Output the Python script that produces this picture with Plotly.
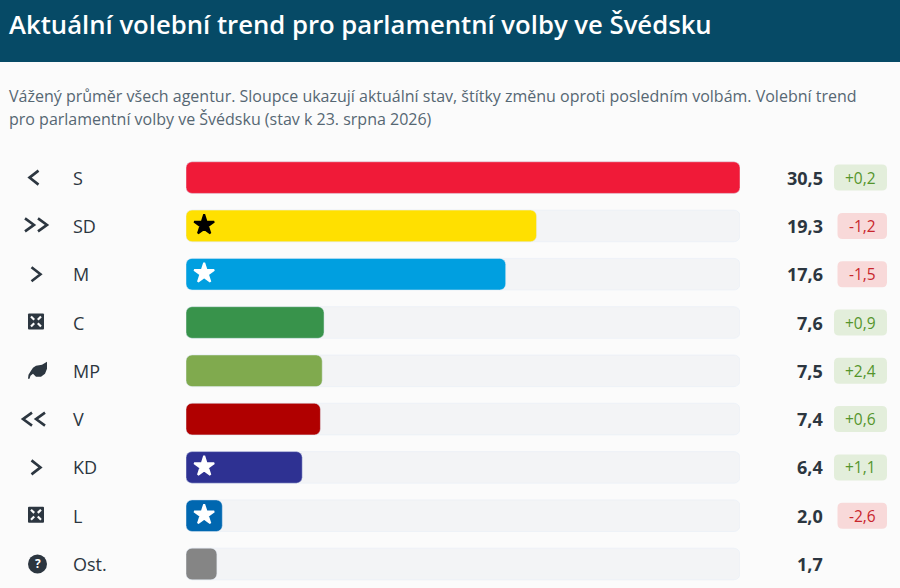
import plotly.graph_objects as go

W, H = 900, 588

parties = ["S", "SD", "M", "C", "MP", "V", "KD", "L", "Ost."]
values = [30.5, 19.3, 17.6, 7.6, 7.5, 7.4, 6.4, 2.0, 1.7]
changes = ["+0,2", "-1,2", "-1,5", "+0,9", "+2,4", "+0,6", "+1,1", "-2,6", ""]
colors = ["#f01a38", "#ffe000", "#009fe0", "#38934b", "#80aa4e", "#b00000", "#2e3192", "#0067b0", "#858585"]
stars = [None, "black", "white", None, None, None, "white", "white", None]
icons = ["<", ">>", ">", "x", "leaf", "<<", ">", "x", "?"]

TITLE = "Aktuální volební trend pro parlamentní volby ve Švédsku"
SUB1 = "Vážený průměr všech agentur. Sloupce ukazují aktuální stav, štítky změnu oproti posledním volbám. Volební trend"
SUB2 = "pro parlamentní volby ve Švédsku (stav k 23. srpna 2026)"

DARK = "#2c3640"
FONT = "Open Sans"
ROW0, ROWH = 177.6, 48.3


def rowy(i):
    return ROW0 + ROWH * i


def px(x, y):
    # picture pixels to paper coordinates
    return x / W, 1 - y / H


def path(points, close=False):
    s = ""
    for n, (x, y) in enumerate(points):
        a, b = px(x, y)
        s += ("M" if n == 0 else "L") + f"{a:.5f},{b:.5f} "
    return s + ("Z" if close else "")


def rounded(x0, y0, x1, y1, r):
    a = px(x0 + r, y0)
    b = px(x1 - r, y0)
    c = px(x1, y0 + r)
    d = px(x1, y1 - r)
    e = px(x1 - r, y1)
    f = px(x0 + r, y1)
    g = px(x0, y1 - r)
    h = px(x0, y0 + r)
    return (f"M{a[0]:.5f},{a[1]:.5f} L{b[0]:.5f},{b[1]:.5f} Q{px(x1, y0)[0]:.5f},{px(x1, y0)[1]:.5f} {c[0]:.5f},{c[1]:.5f} "
            f"L{d[0]:.5f},{d[1]:.5f} Q{px(x1, y1)[0]:.5f},{px(x1, y1)[1]:.5f} {e[0]:.5f},{e[1]:.5f} "
            f"L{f[0]:.5f},{f[1]:.5f} Q{px(x0, y1)[0]:.5f},{px(x0, y1)[1]:.5f} {g[0]:.5f},{g[1]:.5f} "
            f"L{h[0]:.5f},{h[1]:.5f} Q{px(x0, y0)[0]:.5f},{px(x0, y0)[1]:.5f} {a[0]:.5f},{a[1]:.5f} Z")


def chevron(fig, cx, cy, right=True, w=4.5, h=7):
    d = 1 if right else -1
    pts = [(cx - d * w, cy - h), (cx + d * w, cy), (cx - d * w, cy + h)]
    fig.add_shape(type="path", xref="paper", yref="paper", path=path(pts),
                  line=dict(color=DARK, width=2.6), layer="above")


def puzzle(fig, cy):
    cx = 36
    fig.add_shape(type="path", xref="paper", yref="paper",
                  path=rounded(cx - 8, cy - 8, cx + 8, cy + 8, 1), fillcolor=DARK, line_width=0)
    # white diagonals, dark centre
    for sx, sy in [(-1, -1), (1, -1), (-1, 1), (1, 1)]:
        fig.add_shape(type="path", xref="paper", yref="paper",
                      path=path([(cx + sx * 1.8, cy + sy * 1.8), (cx + sx * 5, cy + sy * 5)]),
                      line=dict(color="#fbfbfb", width=2.2), layer="above")


def leaf(fig, cy):
    pts = [(47, cy - 9), (47, cy - 2), (45, cy + 3), (41, cy + 6), (36, cy + 6), (33, cy + 3), (30.5, cy + 5),
           (29.5, cy + 8), (28, cy + 8), (28.5, cy + 4), (31, cy), (33, cy - 3), (36, cy - 5), (42, cy - 6)]
    fig.add_shape(type="path", xref="paper", yref="paper", path=path(pts, True), fillcolor=DARK, line_width=0)


fig = go.Figure()

# grey tracks sit on their own axes, otherwise plotly drops the rounding on the shorter bars
fig.add_trace(go.Bar(x=[max(values)] * len(values), y=list(range(len(values))), orientation="h",
                     width=0.655, base=[0] * len(values), marker=dict(color="#f3f4f6", cornerradius=6), hoverinfo="skip"))
fig.add_trace(go.Bar(x=values, y=list(range(len(values))), orientation="h", width=0.655, base=[0] * len(values),
                     marker=dict(color=colors, cornerradius=6), xaxis="x2", yaxis="y2"))

for star in ["black", "white"]:
    rows = [i for i, s in enumerate(stars) if s == star]
    fig.add_trace(go.Scatter(x=[1.0] * len(rows), y=[r - 0.02 for r in rows], mode="markers", xaxis="x2", yaxis="y2",
                             marker=dict(symbol="star", size=15, color=star, line=dict(color=star, width=2))))

# header band
fig.add_shape(type="rect", xref="paper", yref="paper", x0=0, x1=1, y0=1 - 62 / H, y1=1,
              fillcolor="#064a66", line_width=0, layer="below")
fig.add_annotation(xref="paper", yref="paper", x=7 / W, y=1 - 24 / H, text=TITLE, showarrow=False,
                   xanchor="left", yanchor="middle", font=dict(family=FONT, size=25.7, color="white", weight=600))
for text, ypos in [(SUB1, 96), (SUB2, 119)]:
    fig.add_annotation(xref="paper", yref="paper", x=7 / W, y=1 - ypos / H, text=text, showarrow=False,
                       xanchor="left", yanchor="middle", font=dict(family=FONT, size=16, color="#566773"))

for i, p in enumerate(parties):
    cy = rowy(i)
    fig.add_annotation(xref="paper", yref="y", x=71 / W, y=i, text=p, showarrow=False, xanchor="left",
                       yanchor="middle", font=dict(family=FONT, size=18, color=DARK))
    fig.add_annotation(xref="paper", yref="y", x=825 / W, y=i, text=f"{values[i]:.1f}".replace(".", ","),
                       showarrow=False, xanchor="right", yanchor="middle",
                       font=dict(family=FONT, size=18, color=DARK, weight=700))
    c = changes[i]
    if c:
        good = c[0] == "+"
        x0 = 834 if good else 837.5
        fig.add_shape(type="path", xref="paper", yref="paper", path=rounded(x0, cy - 13, 887, cy + 13, 5),
                      fillcolor="#e3eedb" if good else "#f8d9d9", line_width=0, layer="below")
        fig.add_annotation(xref="paper", yref="y", x=(x0 + 887) / 2 / W, y=i, text=c, showarrow=False,
                           xanchor="center", yanchor="middle",
                           font=dict(family=FONT, size=15.5, color="#55952b" if good else "#c8262c"))
    kind = icons[i]
    if kind == "<":
        chevron(fig, 34, cy, False)
    elif kind == ">":
        chevron(fig, 36, cy)
    elif kind == ">>":
        chevron(fig, 29.5, cy - 1, True, 4.5, 6.5)
        chevron(fig, 42.5, cy - 1, True, 4.5, 6.5)
    elif kind == "<<":
        chevron(fig, 27.5, cy, False, 4.5, 6.5)
        chevron(fig, 40.5, cy, False, 4.5, 6.5)
    elif kind == "x":
        puzzle(fig, cy - 1)
    elif kind == "leaf":
        leaf(fig, cy)
    elif kind == "?":
        x0, y1 = px(28, cy - 9.5)
        x1, y0 = px(47, cy + 9.5)
        fig.add_shape(type="circle", xref="paper", yref="paper", x0=x0, x1=x1, y0=y0, y1=y1,
                      fillcolor=DARK, line_width=0)
        fig.add_annotation(xref="paper", yref="y", x=37.5 / W, y=i - 0.005, text="?", showarrow=False,
                           xanchor="center", yanchor="middle",
                           font=dict(family=FONT, size=12, color="white", weight=700))

xdom = [186 / W, 740 / W]
yrange = [(588 - ROW0) / ROWH, (153 - ROW0) / ROWH]
ydom = [0, 1 - 153 / H]
fig.update_layout(
    xaxis=dict(domain=xdom, range=[0, max(values)], visible=False),
    yaxis=dict(domain=ydom, range=yrange, visible=False),
    xaxis2=dict(domain=xdom, range=[0, max(values)], visible=False, overlaying="x", anchor="y2"),
    yaxis2=dict(domain=ydom, range=yrange, visible=False, overlaying="y", anchor="x2"),
    width=W, height=H, margin=dict(l=0, r=0, t=0, b=0), showlegend=False,
    paper_bgcolor="#fbfbfb", plot_bgcolor="rgba(0,0,0,0)", font=dict(family=FONT, color=DARK))

fig.write_html("out.html", config={"displayModeBar": False}, post_script="document.body.style.margin='0';")
